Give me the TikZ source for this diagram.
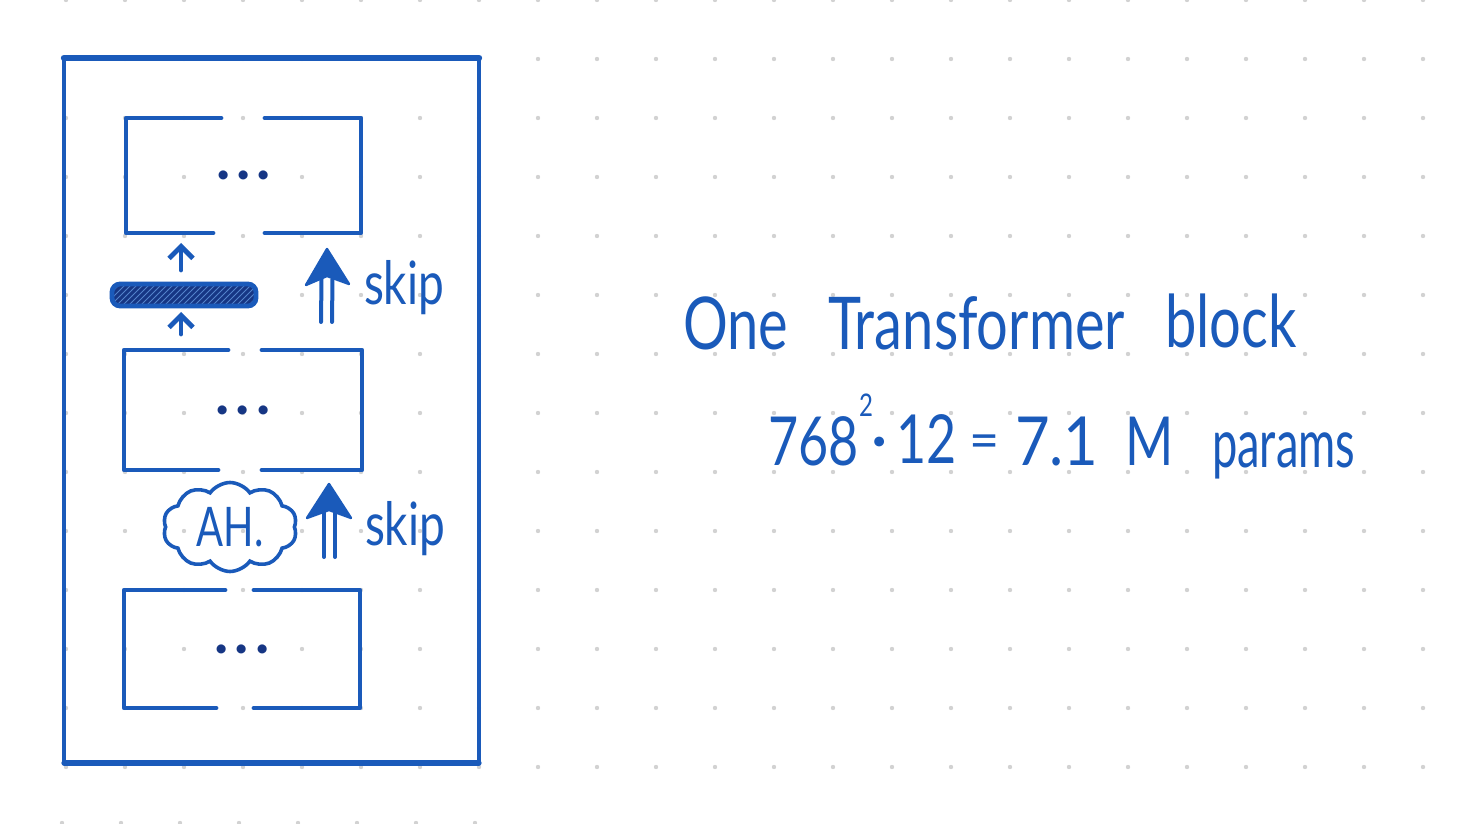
\documentclass[tikz,border=0pt]{standalone}
\usepackage{fontspec}
\setmainfont{Lato}
\usetikzlibrary{calc,shapes.symbols,arrows.meta,patterns}
\definecolor{ink}{RGB}{26,90,186}
\definecolor{darkink}{RGB}{22,54,132}
\definecolor{griddot}{RGB}{210,210,210}
\newcommand{\hw}[2]{\scalebox{#1}[1.3]{#2}}
\begin{document}
\begin{tikzpicture}[x=0.5pt,y=-0.5pt,
  pen/.style={draw=ink, line width=2.4pt, line cap=round, line join=round},
  blk/.style={draw=none, text=darkink, inner sep=0pt, outer sep=0pt,
    font=\fontsize{30}{30}\selectfont\bfseries},
  hand/.style={text=ink, inner sep=0pt, outer sep=0pt, anchor=base west},
  smallarrow/.style={draw=ink, line width=2.4pt, line cap=round,
    -{Straight Barb[length=6pt,width=12pt]}},
  shaft/.style={draw=ink, line width=2pt, line cap=round},
  head/.style={fill=ink, draw=ink, line width=1.2pt, line join=round},
]
% background and page size
\fill[white] (0,0) rectangle (1464,824);
\useasboundingbox (0,0) rectangle (1464,824);
\foreach \i in {1,...,24}
  \foreach \j in {0,...,13}
    \fill[griddot] ({7+59*\i},{59*\j}) circle (1.1pt);
\foreach \i in {1,...,8}
  \fill[griddot] ({3+59*\i},823) circle (1.1pt);

% outer frame
\node[draw=none, inner sep=0pt, outer sep=0pt,
      minimum width=207.5pt, minimum height=352.5pt] (outer) at (271.5,410.5) {};
\draw[pen, line width=1.8pt] (outer.north west) -- (outer.south west);
\draw[pen, line width=2pt] (outer.south east) -- (outer.north east);
\draw[pen, line width=2.6pt] (outer.south west) -- (outer.south east);
\draw[pen, line width=3.2pt] (outer.north west) -- (outer.north east);

% three inner blocks
\node[blk, minimum width=117.5pt, minimum height=57.5pt] (b1) at (243.5,175.5) {.\kern3pt.\kern3pt.};
\node[blk, minimum width=119pt, minimum height=60pt] (b2) at (243,410) {.\kern3pt.\kern3pt.};
\node[blk, minimum width=118pt, minimum height=59pt] (b3) at (242,649) {.\kern3pt.\kern3pt.};

\draw[pen] ($(b1.north)+(-22.5,0)$) -| (b1.south west) -- ($(b1.south)+(-30.5,0)$);
\draw[pen] ($(b1.north)+(21.5,0)$) -| (b1.south east) -- ($(b1.south)+(21.5,0)$);
\draw[pen] ($(b2.north)+(-15,0)$) -| (b2.south west) -- ($(b2.south)+(-25,0)$);
\draw[pen] ($(b2.north)+(19,0)$) -| (b2.south east) -- ($(b2.south)+(19,0)$);
\draw[pen] ($(b3.north)+(-17,0)$) -| (b3.south west) -- ($(b3.south)+(-26,0)$);
\draw[pen] ($(b3.north)+(12,0)$) -| (b3.south east) -- ($(b3.south)+(12,0)$);

% hatched bar with small arrows
\node[draw=ink, line width=2.4pt, rounded corners=4pt, inner sep=0pt, outer sep=0pt,
      minimum width=72pt, minimum height=11pt,
      preaction={fill=darkink},
      pattern=north east lines, pattern color=ink!75!white] (bar) at (184,295) {};
\draw[smallarrow] ($(bar.north)+(-3,-14)$) -- ($(b1.south)+(-62.5,10)$);
\draw[smallarrow] ($(b2.north)+(-62,-16)$) -- ($(bar.south)+(-3,6)$);

% skip arrow 1
\coordinate (sk1tip) at ($(b1.south)+(83.5,16)$);
\coordinate (sk1base) at ($(b2.north)+(83.5,-28)$);
\draw[shaft] ($(sk1base)+(-5.5,0)$) -- ($(sk1tip)+(-5.5,30)$);
\draw[shaft] ($(sk1base)+(5.5,0)$) -- ($(sk1tip)+(5.5,30)$);
\filldraw[head] (sk1tip) -- ++(-21,36) -- ++(21,-9) -- ++(22,8) -- cycle;
\node[hand, font=\fontsize{23}{23}\selectfont] (skip1) at (364,305) {\hw{1}{skip}};

% skip arrow 2
\coordinate (sk2tip) at ($(b2.south)+(86,14)$);
\coordinate (sk2base) at ($(b3.north)+(88,-33)$);
\draw[shaft] ($(sk2base)+(-6,0)$) -- ($(sk2tip)+(-5,28)$);
\draw[shaft] ($(sk2base)+(5,0)$) -- ($(sk2tip)+(6,28)$);
\filldraw[head] (sk2tip) -- ++(-22,34) -- ++(22,-8) -- ++(22,8) -- cycle;
\node[hand, font=\fontsize{23}{23}\selectfont] (skip2) at (365,545) {\hw{1}{skip}};

% cloud
\node[cloud, draw=ink, line width=1.8pt, cloud puffs=10, cloud puff arc=110,
      cloud ignores aspect, minimum width=67pt, minimum height=44.5pt,
      inner sep=0pt, text=ink, font=\fontsize{21}{21}\selectfont] (ah) at (230,527) {\hw{0.95}{AH.}};

% title text
\node[hand, font=\fontsize{28}{28}\selectfont] (t1) at (683,350) {\hw{1}{One}};
\node[hand, font=\fontsize{28}{28}\selectfont] (t2) at (828,350) {\hw{1}{Transformer}};
\node[hand, font=\fontsize{28}{28}\selectfont] (t3) at (1165,348) {\hw{1}{block}};

% formula
\node[hand, font=\fontsize{26}{26}\selectfont] (f1) at (768,466) {\hw{1}{768}};
\node[hand, font=\fontsize{12}{12}\selectfont] (f2) at (859,416) {\hw{1}{2}};
\node[text=ink, inner sep=0pt, font=\fontsize{26}{26}\selectfont\bfseries] (f3) at (880,447) {·};
\node[hand, font=\fontsize{26}{26}\selectfont] (f4) at (896,463) {\hw{1}{12}};
\node[text=ink, inner sep=0pt, font=\fontsize{26}{26}\selectfont] (f5) at (985,447) {=};
\node[hand, font=\fontsize{26}{26}\selectfont] (f6) at (1015,466) {\hw{1.15}{7.1}};
\node[hand, font=\fontsize{26}{26}\selectfont] (f7) at (1125,465) {\hw{1}{M}};
\node[hand, font=\fontsize{26}{26}\selectfont] (f8) at (1212,467) {\hw{0.87}{params}};
\end{tikzpicture}
\end{document}
